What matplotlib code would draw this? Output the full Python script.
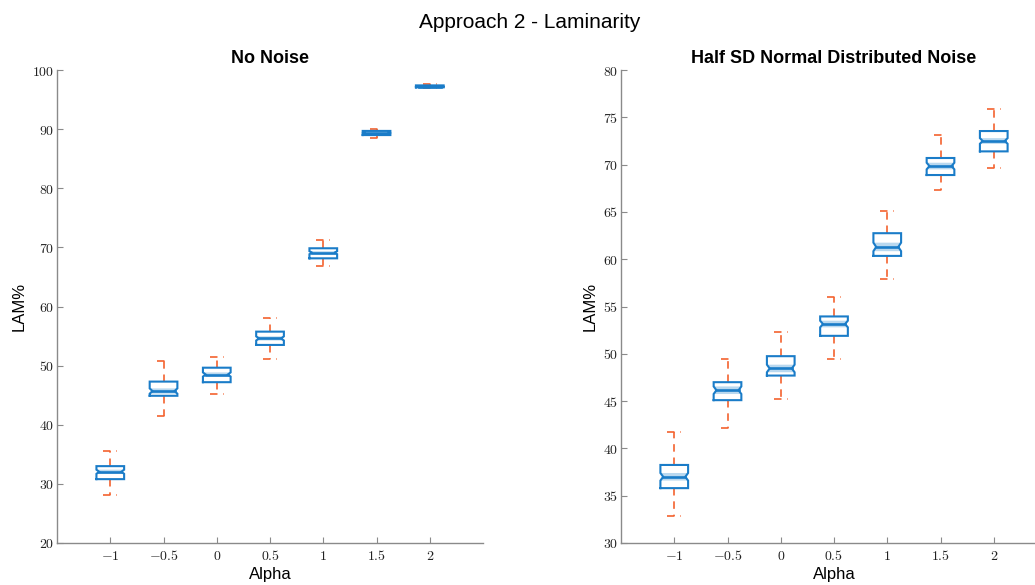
import numpy as np
import matplotlib.pyplot as plt

plt.rcParams['font.family'] = ['Liberation Sans', 'DejaVu Sans']
plt.rcParams['mathtext.fontset'] = 'cm'

BLUE = '#1a7cc8'
ORANGE = '#f4622f'
NOTCH_FILL = '#b9d8ef'
AXIS_GRAY = '#8a8a8a'

alpha_values = [-1, -0.5, 0, 0.5, 1, 1.5, 2]

# LAM% box statistics, no noise
nn_whislo = [28.2, 41.5, 45.2, 51.2, 66.9, 88.55, 96.9]
nn_q1 = [30.8, 44.9, 47.2, 53.5, 68.15, 89.0, 97.07]
nn_med = [32.05, 45.7, 48.5, 54.6, 69.1, 89.35, 97.2]
nn_q3 = [33.0, 47.3, 49.65, 55.75, 69.85, 89.7, 97.4]
nn_whishi = [35.6, 50.8, 51.5, 58.0, 71.2, 90.1, 97.6]
nn_notch = [0.35, 0.45, 0.35, 0.35, 0.25, 0.1, 0.05]

# LAM% box statistics, half SD normal noise
hn_whislo = [32.85, 42.2, 45.2, 49.5, 57.9, 67.3, 69.6]
hn_q1 = [35.8, 45.1, 47.7, 51.9, 60.35, 68.9, 71.4]
hn_med = [37.0, 46.15, 48.45, 53.15, 61.3, 69.85, 72.5]
hn_q3 = [38.25, 47.0, 49.75, 53.95, 62.75, 70.7, 73.55]
hn_whishi = [41.75, 49.5, 52.3, 56.0, 65.1, 73.1, 75.85]
hn_notch = [0.4, 0.4, 0.4, 0.35, 0.45, 0.35, 0.3]


def draw_box(ax, x, lo, q1, med, q3, hi, notch, width=0.52):
    half = width / 2
    inset = 0.1 * width
    n_lo = max(med - notch, q1)
    n_hi = min(med + notch, q3)

    # shaded notch band
    ax.fill([x - half, x - half + inset, x - half, x + half, x + half - inset, x + half],
            [n_lo, med, n_hi, n_hi, med, n_lo], color=NOTCH_FILL, lw=0, zorder=2)

    xs = [x - half, x + half, x + half, x + half - inset, x + half, x + half,
          x - half, x - half, x - half + inset, x - half, x - half]
    ys = [q1, q1, n_lo, med, n_hi, q3, q3, n_hi, med, n_lo, q1]
    ax.plot(xs, ys, color=BLUE, lw=1.5, zorder=3, solid_joinstyle='miter')
    ax.plot([x - half + inset, x + half - inset], [med, med], color=BLUE, lw=1.9, zorder=3)

    dash = (0, (4.5, 3.5))
    cap = width * 0.25
    ax.plot([x, x], [q3, hi], color=ORANGE, lw=1.2, ls=dash, zorder=1)
    ax.plot([x, x], [q1, lo], color=ORANGE, lw=1.2, ls=dash, zorder=1)
    ax.plot([x - cap, x + cap], [hi, hi], color=ORANGE, lw=1.2, ls=dash, zorder=1)
    ax.plot([x - cap, x + cap], [lo, lo], color=ORANGE, lw=1.2, ls=dash, zorder=1)


def style_axes(ax, ylim, yticks, title):
    ax.set_xlim(0, 8)
    ax.set_ylim(*ylim)
    pos = np.arange(1, len(alpha_values) + 1)
    ax.set_xticks(pos)
    ax.set_xticklabels([f'${v:g}$' for v in alpha_values])
    ax.set_yticks(yticks)
    ax.set_yticklabels([f'${v:g}$' for v in yticks])
    for side in ('top', 'right'):
        ax.spines[side].set_visible(False)
    for side in ('left', 'bottom'):
        ax.spines[side].set_color(AXIS_GRAY)
        ax.spines[side].set_linewidth(1.0)
    ax.tick_params(direction='in', length=4, width=0.8, color=AXIS_GRAY,
                   labelsize=10, labelcolor='#222222')
    ax.tick_params(axis='x', pad=4)
    ax.tick_params(axis='y', pad=2)
    ax.set_xlabel('Alpha', fontsize=12, labelpad=3)
    ax.set_ylabel('LAM%', fontsize=12, labelpad=4)
    ax.set_title(title, fontsize=13, fontweight='bold', pad=5)


fig = plt.figure(figsize=(10.35, 5.85), dpi=100)
ax1 = fig.add_axes([0.0551, 0.0718, 0.4116, 0.8085])
ax2 = fig.add_axes([0.6, 0.0718, 0.4116, 0.8085])

for i in range(len(alpha_values)):
    draw_box(ax1, i + 1, nn_whislo[i], nn_q1[i], nn_med[i], nn_q3[i], nn_whishi[i], nn_notch[i])
    draw_box(ax2, i + 1, hn_whislo[i], hn_q1[i], hn_med[i], hn_q3[i], hn_whishi[i], hn_notch[i])

style_axes(ax1, (20, 100), np.arange(20, 101, 10), 'No Noise')
style_axes(ax2, (30, 80), np.arange(30, 81, 5), 'Half SD Normal Distributed Noise')

fig.text(0.5116, 0.962, 'Approach 2 - Laminarity', ha='center', va='center', fontsize=15)

fig.savefig('out.png', dpi=100)
